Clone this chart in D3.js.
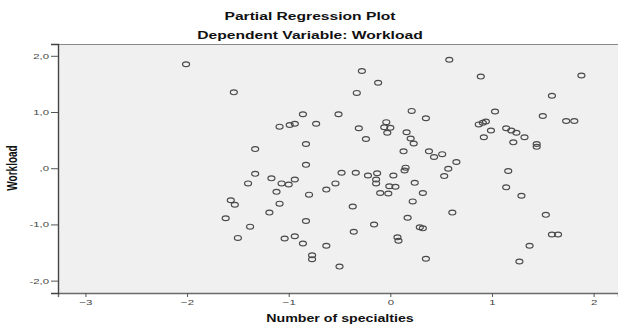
<!DOCTYPE html>
<html>
<head>
<meta charset="utf-8">
<script src="https://cdn.jsdelivr.net/npm/d3@7"></script>
<style>
  html, body { margin: 0; padding: 0; background: #ffffff; }
  svg { display: block; }
  text { font-family: "Liberation Sans", Arial, sans-serif; }
</style>
</head>
<body>
<svg id="chart" width="618" height="326"></svg>
<script>
// ---- data ----
const specialties = [
  -2.01, -1.54, -0.86, -1.09, -0.99, -0.94, -0.83, -1.33, -0.83, -1.33,
  -1.40, -1.17, -1.07, -1.00, -0.94, -1.12, -0.80, -1.57, -1.53, -1.09,
  -1.19, -1.62, -0.83, -1.38, -1.50, -1.04, -0.94, -0.86, -0.77, -0.77,
   0.58, -0.28, -0.12, -0.33, -0.51,  0.21,  0.35, -0.73, -0.04, -0.06,
   0.00, -0.03, -0.31, -0.24,  0.16,  0.20,  0.23,  0.13,  0.38,  0.43,
   0.51,  0.65,  0.57,  0.53, -0.48, -0.34, -0.22, -0.13, -0.14, -0.14,
   0.03,  0.15,  0.14,  0.24, -0.54, -0.63, -0.01,  0.05, -0.10, -0.02,
   0.32,  0.22, -0.37,  0.61,  0.17, -0.16, -0.36,  0.29,  0.32,  0.07,
   0.08, -0.63,  0.35, -0.50,  0.89,  1.88,  1.59,  1.03,  1.50,  1.73,
   1.81,  0.87,  0.91,  0.94,  0.99,  0.92,  1.14,  1.19,  1.24,  1.32,
   1.21,  1.44,  1.44,  1.16,  1.14,  1.29,  1.53,  1.59,  1.65,  1.37,
   1.27
];
const workload = [
   1.85,  1.35,  0.96,  0.74,  0.77,  0.79,  0.43,  0.34,  0.06, -0.10,
  -0.27, -0.18, -0.27, -0.29, -0.20, -0.42, -0.47, -0.57, -0.65, -0.63,
  -0.79, -0.89, -0.94, -1.04, -1.24, -1.25, -1.21, -1.34, -1.55, -1.62,
   1.93,  1.73,  1.52,  1.34,  0.96,  1.02,  0.89,  0.79,  0.82,  0.73,
   0.72,  0.63,  0.71,  0.52,  0.64,  0.53,  0.44,  0.30,  0.30,  0.20,
   0.25,  0.11, -0.01, -0.14, -0.08, -0.08, -0.13, -0.09, -0.20, -0.27,
  -0.13,  0.01, -0.04, -0.26, -0.27, -0.38, -0.32, -0.33, -0.44, -0.45,
  -0.44, -0.59, -0.68, -0.79, -0.88, -1.00, -1.13, -1.05, -1.07, -1.23,
  -1.29, -1.38, -1.61, -1.75,  1.63,  1.65,  1.29,  1.01,  0.93,  0.84,
   0.84,  0.78,  0.81,  0.83,  0.67,  0.55,  0.71,  0.67,  0.63,  0.55,
   0.46,  0.43,  0.38, -0.05, -0.34, -0.49, -0.83, -1.18, -1.18, -1.38,
  -1.66
];
const xTicks = [-3, -2, -1, 0, 1, 2];
const yTicks = [-2, -1, 0, 1, 2];
const yTickLabels = ["-2,0", "-1,0", ",0", "1,0", "2,0"];
const titleLines = ["Partial Regression Plot", "Dependent Variable: Workload"];
const xTitle = "Number of specialties";
const yTitle = "Workload";

// ---- layout ----
const W = 618, H = 326;
const plot = { left: 58, right: 618, top: 44, bottom: 293 };
const STRETCH = 1.42; // reference is horizontally stretched

const svg = d3.select("#chart");

const x = d3.scaleLinear().domain([-3.27, 2.24]).range([plot.left, plot.right]);
const y = d3.scaleLinear().domain([-2.22, 2.21]).range([plot.bottom, plot.top]);

// plot background
svg.append("rect")
  .attr("x", plot.left).attr("y", plot.top)
  .attr("width", plot.right - plot.left).attr("height", plot.bottom - plot.top)
  .attr("fill", "#f0f0f0");

// top border
svg.append("line")
  .attr("x1", plot.left).attr("x2", plot.right)
  .attr("y1", plot.top + 0.5).attr("y2", plot.top + 0.5)
  .attr("stroke", "#8a8a8a").attr("stroke-width", 1);

function stretchText(sel, factor) {
  sel.each(function () {
    const n = this.getComputedTextLength();
    d3.select(this).attr("textLength", n * factor).attr("lengthAdjust", "spacingAndGlyphs");
  });
}

// x axis
const xAxis = d3.axisBottom(x).tickValues(xTicks).tickFormat(d3.format("d"))
  .tickSize(4).tickPadding(2);
const gx = svg.append("g").attr("transform", `translate(0,${plot.bottom})`).call(xAxis);
gx.select(".domain").attr("stroke", "#6a6a6a").attr("stroke-width", 1.4);
gx.selectAll(".tick line").attr("stroke", "#555");
gx.selectAll(".tick text").attr("font-size", 8).attr("fill", "#444")
  .attr("font-family", "'Liberation Sans', Arial, sans-serif");
stretchText(gx.selectAll(".tick text"), STRETCH);

// y axis
const yAxis = d3.axisLeft(y).tickValues(yTicks)
  .tickFormat((d, i) => yTickLabels[i]).tickSize(7).tickPadding(2);
const gy = svg.append("g").attr("transform", `translate(${plot.left},0)`).call(yAxis);
gy.select(".domain").attr("stroke", "#444").attr("stroke-width", 1.4);
gy.selectAll(".tick line").attr("stroke", "#555");
gy.selectAll(".tick text").attr("font-size", 8).attr("fill", "#444")
  .attr("font-family", "'Liberation Sans', Arial, sans-serif");
stretchText(gy.selectAll(".tick text"), STRETCH);

// points
const pts = specialties.map((v, i) => ({ x: v, y: workload[i] }));
svg.append("g").selectAll("ellipse").data(pts).join("ellipse")
  .attr("cx", d => x(d.x)).attr("cy", d => y(d.y))
  .attr("rx", 3.5).attr("ry", 2.4)
  .attr("fill", "none").attr("stroke", "#4a4a4a").attr("stroke-width", 1.2);

// titles
const tX = 310;
const t1 = svg.append("text").attr("x", tX).attr("y", 20).attr("text-anchor", "middle")
  .attr("font-size", 11).attr("font-weight", "bold").attr("fill", "#111").text(titleLines[0]);
const t2 = svg.append("text").attr("x", tX).attr("y", 39).attr("text-anchor", "middle")
  .attr("font-size", 11).attr("font-weight", "bold").attr("fill", "#111").text(titleLines[1]);
stretchText(t1, STRETCH);
stretchText(t2, STRETCH);

// x title
const xt = svg.append("text").attr("x", 340).attr("y", 322).attr("text-anchor", "middle")
  .attr("font-size", 10).attr("font-weight", "bold").attr("fill", "#111").text(xTitle);
stretchText(xt, STRETCH);

// y title (rotated; stretch applies to its thickness, not its length)
svg.append("text")
  .attr("transform", `translate(17,168) scale(${STRETCH},1) rotate(-90)`)
  .attr("text-anchor", "middle")
  .attr("font-size", 10).attr("font-weight", "bold").attr("fill", "#111").text(yTitle);
</script>
</body>
</html>
